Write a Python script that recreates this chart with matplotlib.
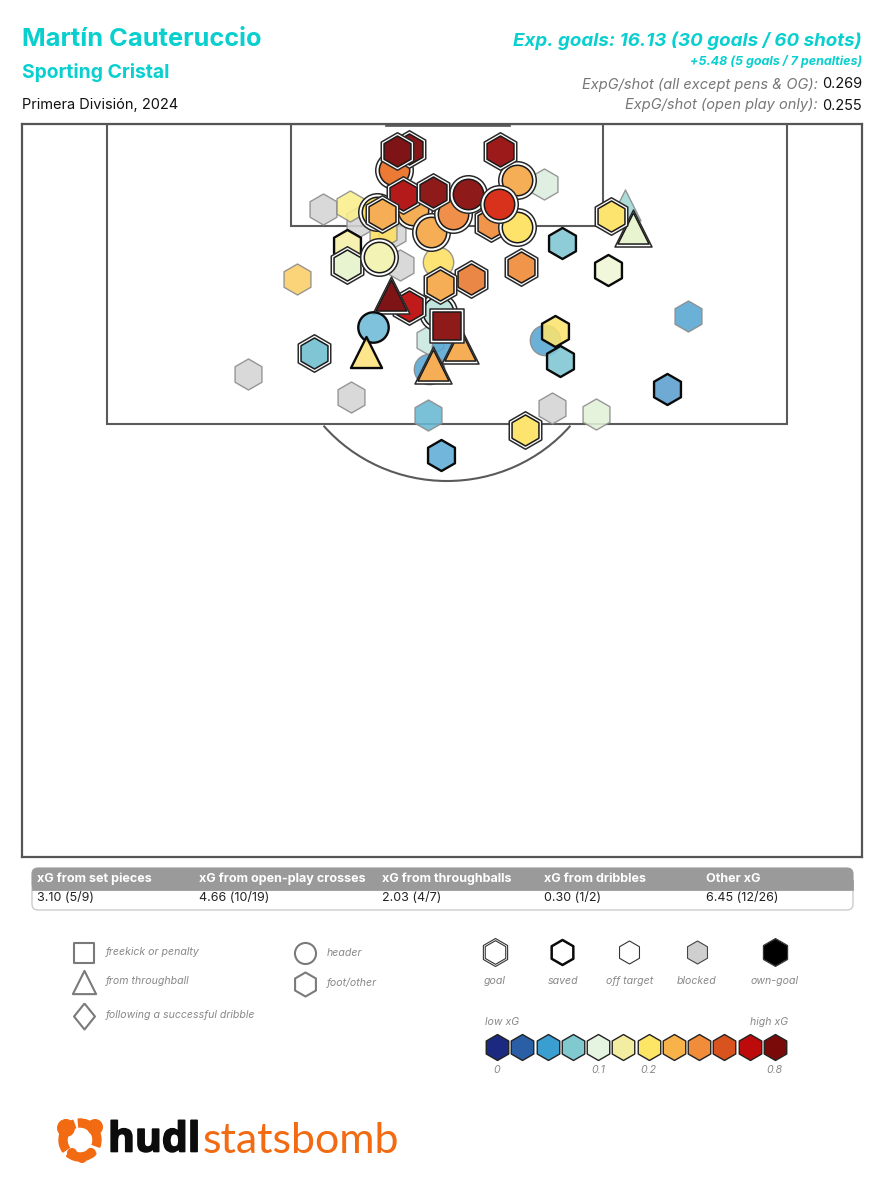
import matplotlib
matplotlib.use("Agg")
import matplotlib.pyplot as plt
import matplotlib.patheffects as pe
from matplotlib.patches import Rectangle, Arc, FancyBboxPatch, Wedge, Circle
from matplotlib.colors import to_rgba

plt.rcParams['font.family'] = ['Inter', 'DejaVu Sans']

TEAL = '#0acfcf'
W, H = 884, 1200

# ---------- data ----------
player = "Martín Cauteruccio"
team = "Sporting Cristal"
competition = "Primera División, 2024"
headline = "Exp. goals: 16.13 (30 goals / 60 shots)"
sub_headline = "+5.48 (5 goals / 7 penalties)"
stat_labels = ["ExpG/shot (all except pens & OG):", "ExpG/shot (open play only):"]
stat_values = ["0.269", "0.255"]

table_heads = ["xG from set pieces", "xG from open-play crosses", "xG from throughballs",
               "xG from dribbles", "Other xG"]
table_vals = ["3.10 (5/9)", "4.66 (10/19)", "2.03 (4/7)", "0.30 (1/2)", "6.45 (12/26)"]

# shots in draw order; x/y in the pitch axes' units
shot_x = [323, 360, 392, 400, 248, 351, 552,
          544, 350, 383, 297, 688, 428, 596, 430, 625,
          438, 545, 447, 429,
          377, 413, 394, 438, 409, 397,
          517, 491, 517, 431, 453, 468, 499, 403, 433, 500,
          382, 347, 347, 379, 562, 521, 471, 440,
          409, 391, 373, 366, 314,
          460, 433, 447, 608, 555, 560, 667, 441, 525, 633, 611]
shot_y = [209, 221, 233, 265, 374, 397, 408,
          184, 206, 232, 279, 316, 415, 414, 340, 205,
          262, 340, 347, 369,
          212, 210, 170, 312, 149, 151,
          180, 223, 227, 232, 214, 194, 204, 195, 192, 151,
          214, 245, 265, 257, 243, 267, 279, 285,
          306, 295, 327, 352, 353,
          345, 365, 326, 270, 331, 361, 389, 455, 430, 228, 216]
shot_shape = ['h', 'h', 'h', 'h', 'h', 'h', 'h',
              'h', 'h', 'h', 'h', 'h', 'h', 'h', 'h', '^',
              'o', 'o', 'o', 'o',
              'o', 'o', 'o', 'o', 'h', 'h',
              'o', 'h', 'o', 'o', 'o', 'o', 'o', 'h', 'h', 'h',
              'h', 'h', 'h', 'o', 'h', 'h', 'h', 'h',
              'h', '^', 'o', '^', 'h',
              '^', '^', 's', 'h', 'h', 'h', 'h', 'h', 'h', '^', 'h']
shot_result = ['blocked'] * 7 + ['off'] * 9 + ['off'] * 4 + \
              ['goal'] * 16 + \
              ['goal', 'saved', 'goal', 'goal', 'saved', 'goal', 'goal', 'goal',
               'goal', 'goal', 'saved', 'saved', 'goal',
               'goal', 'goal', 'goal', 'saved', 'saved', 'saved', 'saved', 'saved', 'goal', 'goal', 'goal']
shot_colour = ['#d4d4d4'] * 7 + \
              ['#dbeee0', '#fbef8c', '#fde060', '#fbce66', '#57a6d2', '#68b8d2', '#e2f1d8', '#c8e8e0', '#a0d8d4',
               '#fde060', '#57a6d2', '#57a6d2', '#57a6d2',
               '#fbe06c', '#f5ae55', '#ec7a35', '#bfe5de', '#8a1518', '#7f1416',
               '#f5ae55', '#f0954a', '#fde36a', '#f5ae55', '#ef8f4a', '#8f1a1a', '#d9321c', '#b51a1a', '#8f1a1a', '#9c1a1a',
               '#f5ae55', '#f5f0a5', '#e8f3d0', '#f2f3b5', '#7fc5d3', '#f0954a', '#ea8746', '#f5ae55',
               '#c01a1a', '#7f1416', '#6dbad6', '#fce27a', '#7fc5d3',
               '#f5ae55', '#f5ae55', '#8f1a1a', '#eef6d5', '#fbe36e', '#7fc5d3', '#5b9fcf', '#5fadd6', '#fce46f', '#e8f3d0', '#fce46f']

shape_labels = ["freekick or penalty", "from throughball", "following a successful dribble"]
shape_labels2 = ["header", "foot/other"]
outcome_labels = ["goal", "saved", "off target", "blocked", "own-goal"]
scale_colours = ['#1b2a80', '#2a5fa5', '#3a9fd0', '#7fc9cf', '#e4f4e1', '#f2eda0',
                 '#fde565', '#f7b24a', '#f08c3a', '#d9531e', '#bd0b0b', '#7a0a0a']
scale_ticks = {0: "0", 4: "0.1", 6: "0.2", 11: "0.8"}

SIZE = {'h': 500, 'o': 480, '^': 500, 's': 390}
SIZE_GOAL = {'h': 730, 'o': 730, '^': 710, 's': 570}

# ---------- figure ----------
fig = plt.figure(figsize=(W / 100, H / 100), dpi=100, facecolor='white')

# overlay in figure pixels, for text and legends
ov = fig.add_axes([0, 0, 1, 1], zorder=1)
ov.set_xlim(0, W)
ov.set_ylim(H, 0)
ov.axis('off')

# pitch
ax = fig.add_axes([22 / W, 1 - 857 / H, 840 / W, 733 / H], zorder=2)
ax.set_xlim(22, 862)
ax.set_ylim(857, 124)
ax.set_xticks([])
ax.set_yticks([])
for s in ax.spines.values():
    s.set_edgecolor('#555555')
    s.set_linewidth(1.6)

LC = '#5a5a5a'
for rect in [(107, 124, 680, 300), (291, 124, 312, 102)]:
    ax.add_patch(Rectangle(rect[:2], rect[2], rect[3], fill=False, ec=LC, lw=1.5, zorder=1))
ax.add_patch(Rectangle((385, 124), 125, 2.2, fc=LC, ec=LC, lw=0.5, zorder=1))
ax.add_patch(Arc((447, 324), 324, 314, theta1=39.5, theta2=140.5, ec=LC, lw=1.5, zorder=1))


def draw_shot(a, x, y, shape, colour, result, z):
    s = SIZE[shape]
    if result == 'goal':
        a.scatter(x, y, s=SIZE_GOAL[shape], marker=shape, fc='white', ec='#2a2a2a', lw=1.1, zorder=z)
        a.scatter(x, y, s=s, marker=shape, fc=colour, ec='#1a1a1a', lw=1.1, zorder=z)
    elif result == 'saved':
        a.scatter(x, y, s=s, marker=shape, fc=to_rgba(colour, 0.88), ec='#0a0a0a', lw=1.7, zorder=z)
    else:
        a.scatter(x, y, s=s, marker=shape, fc=colour, ec='#8a8a8a', lw=1.0, alpha=0.88, zorder=z)


for i in range(len(shot_x)):
    draw_shot(ax, shot_x[i], shot_y[i], shot_shape[i], shot_colour[i], shot_result[i], 5 + i * 0.01)

# ---------- header ----------
ov.text(22, 39, player, color=TEAL, fontsize=18.3, fontweight='bold', va='center')
ov.text(22, 72.5, team, color=TEAL, fontsize=13.9, fontweight='bold', va='center')
ov.text(22, 105.5, competition, color='#111111', fontsize=10.5, va='center')
ov.text(862, 41, headline, color=TEAL, fontsize=13.5, fontweight='bold', style='italic', va='center', ha='right')
ov.text(862, 62, sub_headline, color=TEAL, fontsize=9.0, fontweight='bold', style='italic', va='center', ha='right')
for lab, val, y in zip(stat_labels, stat_values, [84.5, 105.5]):
    ov.text(862, y, val, color='#111111', fontsize=10.5, va='center', ha='right')
    ov.text(818, y, lab, color='#777777', fontsize=10.5, style='italic', va='center', ha='right')

# ---------- table ----------
ov.add_patch(FancyBboxPatch((32, 868), 821, 42, boxstyle="round,pad=0,rounding_size=6",
                            fc='white', ec='#cccccc', lw=1))
ov.add_patch(FancyBboxPatch((32, 868), 821, 22, boxstyle="round,pad=0,rounding_size=6",
                            fc='#9a9a9a', ec='#9a9a9a', lw=0.5))
ov.add_patch(Rectangle((32, 880), 821, 10, fc='#9a9a9a', ec='#9a9a9a', lw=0.5))
for x, h, v in zip([37, 199, 382, 544, 706], table_heads, table_vals):
    ov.text(x, 879, h, color='white', fontsize=9.05, fontweight='bold', va='center')
    ov.text(x, 898, v, color='#222222', fontsize=9.05, va='center')

# ---------- shape legend ----------
GREY = '#7a7a7a'
tall_diamond = [(0, 1.24), (1, 0), (0, -1.24), (-1, 0), (0, 1.24)]
for mk, y, lab, s in zip(['s', '^', tall_diamond], [953, 982, 1016], shape_labels, [220, 280, 350]):
    ov.scatter(84, y, s=s, marker=mk, fc='white', ec=GREY, lw=1.5)
    ov.text(106, y - 1, lab, color='#888888', fontsize=7.6, style='italic', va='center')
for mk, y, lab, s in zip(['o', 'h'], [953, 984], shape_labels2, [230, 300]):
    ov.scatter(305, y, s=s, marker=mk, fc='white', ec=GREY, lw=1.5)
    ov.text(327, y - (0 if mk == 'o' else 1), lab, color='#888888', fontsize=7.6, style='italic', va='center')

# ---------- outcome legend ----------
ox = [495, 562, 629, 697, 775]
ov.scatter(ox[0], 952, s=406, marker='h', fc='white', ec='#333333', lw=0.8)
ov.scatter(ox[0], 952, s=290, marker='h', fc='white', ec='#333333', lw=0.8)
ov.scatter(ox[1], 952, s=324, marker='h', fc='white', ec='#0a0a0a', lw=1.8)
ov.scatter(ox[2], 952, s=275, marker='h', fc='white', ec='#333333', lw=0.8)
ov.scatter(ox[3], 952, s=275, marker='h', fc='#cfcfcf', ec='#444444', lw=0.8)
ov.scatter(ox[4], 952, s=406, marker='h', fc='white', ec='#333333', lw=0.8)
ov.scatter(ox[4], 952, s=340, marker='h', fc='black', ec='black', lw=0.8)
for x, lab in zip([495, 563, 630, 697, 775], outcome_labels):
    ov.text(x, 981, lab, color='#888888', fontsize=7.6, style='italic', va='center', ha='center')

# ---------- xG scale ----------
for i, c in enumerate(scale_colours):
    ov.scatter(497 + 25.27 * i, 1047, s=350, marker='h', fc=c, ec='#222222', lw=1.0)
ov.text(485, 1022, "low xG", color='#888888', fontsize=7.6, style='italic', va='center')
ov.text(788, 1022, "high xG", color='#888888', fontsize=7.6, style='italic', va='center', ha='right')
for i, lab in scale_ticks.items():
    ov.text(497 + 25.27 * i, 1070, lab, color='#888888', fontsize=7.6,
            style='italic', va='center', ha='center')

# ---------- logo ----------
ORANGE = '#f26a12'
ov.text(108, 1141, "hudl", color='#0c0c0c', fontsize=29.5, fontweight='bold', family='Open Sans', va='center',
        path_effects=[pe.withStroke(linewidth=1.2, foreground='#0c0c0c')])
ov.text(203, 1141, "statsbomb", color=ORANGE, fontsize=31, family='Lato', va='center')
for th1, th2 in [(145, 250), (265, 380), (40, 130)]:
    ov.add_patch(Wedge((80, 1140), 21, th1, th2, width=8, fc=ORANGE, ec=ORANGE, lw=1))
for cx, cy, r in [(66, 1128, 9), (95, 1127, 8), (72, 1153, 5), (91, 1153, 5), (82, 1158, 5)]:
    ov.add_patch(Circle((cx, cy), r, fc=ORANGE, ec='none'))

fig.savefig("out.png", dpi=100, facecolor='white')
